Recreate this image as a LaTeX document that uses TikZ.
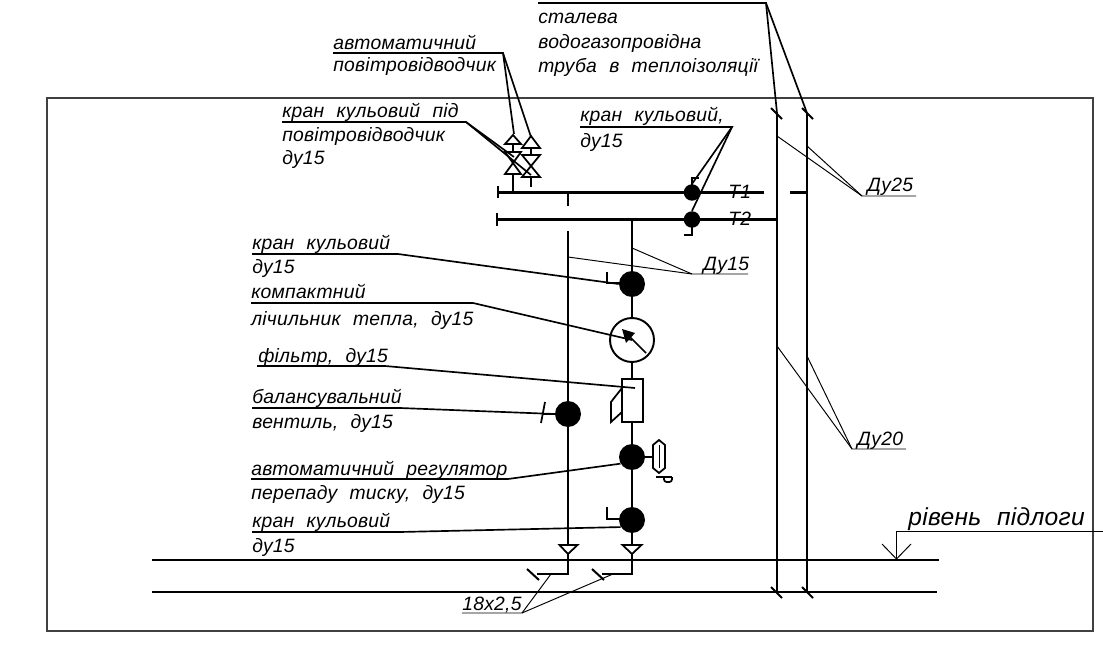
\documentclass[tikz,border=0pt]{standalone}
\usepackage{fontspec}
\setmainfont{Liberation Sans}
\newfontfamily\gostfont[LetterSpace=1.2,WordSpace=2.2]{Liberation Sans}
\usetikzlibrary{calc}
\tikzset{
	pipe/.style={line width=1.15pt},
	leader/.style={line width=0.95pt},
	hairline/.style={line width=0.55pt},
	part/.style={line width=1pt},
	ball/.style={circle,fill=black,inner sep=0pt,minimum size=0.52cm},
	smallball/.style={circle,fill=black,inner sep=0pt,minimum size=0.33cm},
	lbl/.style={anchor=base west,inner sep=0pt,font=\gostfont\itshape\fontsize{11}{13}\selectfont},
}
\begin{document}
\begin{tikzpicture}[x=0.02cm,y=-0.02cm]
			%%%%% FRAME %%%%%
			\useasboundingbox (0,0) rectangle (1103,652);
			\draw[line width=0.8pt,color=black!75] (47,98) rectangle (1093,631);

			%%%%% RISERS AND FLOOR %%%%%
			\draw[pipe] (777,113) -- (777,592);
			\draw[pipe] (807,113) -- (807,592);
			\draw[pipe] (771,108) -- (782,119);
			\draw[pipe] (802,108) -- (813,119);
			\draw[pipe] (771,587) -- (782,598);
			\draw[pipe] (802,587) -- (813,598);
			\draw[line width=1.3pt] (152,560) -- (939,560);
			\draw[line width=1.3pt] (152,592) -- (937,592);

			%%%%% HEADERS %%%%%
			\draw[pipe] (498,192.5) -- (764,192.5);
			\draw[pipe] (790,192.5) -- (807,192.5);
			\draw[pipe] (497,219.5) -- (777,219.5);
			\draw[pipe] (498,186) -- (498,198);
			\draw[pipe] (497,213) -- (497,226);
			\draw[pipe] (568,192.5) -- (568,206);

			%%%%% BRANCHES %%%%%
			\draw[pipe] (568,231) -- (568,574) -- (537,574);
			\draw[pipe] (632,219.5) -- (632,574) -- (602,574);
			\draw[pipe] (527,569) -- (539,580);
			\draw[pipe] (592,569) -- (604,580);
			\draw[part,fill=white] (559.5,545) -- (577.5,545) -- (568,554) -- cycle;
			\draw[part,fill=white] (622.5,545) -- (641.5,545) -- (632,554) -- cycle;

			%%%%% AIR VENTS %%%%%
			\draw[part] (513,192.5) -- (513,174);
			\draw[part] (513,152) -- (513,144);
			\draw[part] (513,135) -- (521,144) -- (505,144) -- cycle;
			\draw[part] (505,152) -- (521,152) -- (505,174) -- (521,174) -- cycle;
			\draw[part] (531,187) -- (531,177);
			\draw[part] (531,155) -- (531,148);
			\draw[part] (531,136) -- (540,148) -- (522,148) -- cycle;
			\draw[part] (522,155) -- (540,155) -- (522,177) -- (540,177) -- cycle;

			%%%%% VALVES ON HEADERS %%%%%
			\node[smallball] (valveT1) at (692,192.5) {};
			\node[smallball] (valveT2) at (692,219.5) {};
			\draw[part] (692,186) -- (692,178) -- (699,178);
			\draw[part] (692,227) -- (692,235) -- (684,235);

			%%%%% DEVICES ON RISER %%%%%
			\node[ball] (valveTop) at (632,284) {};
			\draw[part] (620,283) -- (607,283) -- (607,272);
			\node[circle,draw,fill=white,line width=1.1pt,inner sep=0pt,minimum size=0.88cm] (meter) at (632,340) {};
			\draw[part] (646,353) -- (628,335);
			\fill (622,329) -- (635,333) -- (626,343) -- cycle;
			\node[draw,fill=white,line width=1.1pt,inner sep=0pt,minimum width=0.42cm,minimum height=0.86cm] (filter) at (632.5,400.5) {};
			\draw[part] (622,388) -- (611,402) -- (611,422) -- (622,412);
			\node[ball] (valveBal) at (568,414) {};
			\draw[part] (555,414) -- (543,414);
			\draw[part] (545,402) -- (541,423);
			\node[ball] (regulator) at (632,457) {};
			\draw[part] (645,457) -- (653,457);
			\draw[part] (659,440) -- (665,445) -- (665,468) -- (659,473) -- (653,468) -- (653,445) -- cycle;
			\draw[hairline] (659,445) -- (659,468);
			\draw[part] (656,477) -- (672,477);
			\draw[part,rounded corners=1.5pt] (664,477) -- (664,482) -- (672,482) -- (672,477);
			\node[ball] (valveBot) at (632,520) {};
			\draw[part] (620,519) -- (607,519) -- (607,507);

			%%%%% TEXTS %%%%%
			\node[lbl] (txtVentA) at (333,50) {автоматичний};
			\node[lbl] (txtVentB) at (333,72) {повітровідводчик};
			\node[lbl] (txtSteelA) at (538,24) {сталева};
			\node[lbl] (txtSteelB) at (538,49) {водогазопровідна};
			\node[lbl] (txtSteelC) at (538,73) {труба в теплоізоляції};
			\node[lbl] (txtCockA) at (282,118) {кран кульовий під};
			\node[lbl] (txtCockB) at (282,142) {повітровідводчик};
			\node[lbl] (txtCockC) at (282,165) {ду15};
			\node[lbl] (txtHeadA) at (580,122) {кран кульовий,};
			\node[lbl] (txtHeadB) at (580,148) {ду15};
			\node[lbl] (txtT1) at (728,198) {Т1};
			\node[lbl] (txtT2) at (728,225) {Т2};
			\node[lbl] (txtD25) at (867,192) {Ду25};
			\node[lbl] (txtD20) at (857,445) {Ду20};
			\node[lbl] (txtD15) at (703,271) {Ду15};
			\node[lbl] (txtTopA) at (252,250) {кран кульовий};
			\node[lbl] (txtTopB) at (252,274) {ду15};
			\node[lbl] (txtMeterA) at (251,298) {компактний};
			\node[lbl] (txtMeterB) at (251,325) {лічильник тепла, ду15};
			\node[lbl] (txtFilter) at (258,362) {фільтр, ду15};
			\node[lbl] (txtBalA) at (252,403) {балансувальний};
			\node[lbl] (txtBalB) at (252,428) {вентиль, ду15};
			\node[lbl] (txtRegA) at (251,475) {автоматичний регулятор};
			\node[lbl] (txtRegB) at (251,499) {перепаду тиску, ду15};
			\node[lbl] (txtBotA) at (252,527) {кран кульовий};
			\node[lbl] (txtBotB) at (252,552) {ду15};
			\node[lbl] (txtSize) at (462,610) {18х2,5};
			\node[lbl,font=\gostfont\itshape\fontsize{14}{16}\selectfont] (txtFloor) at (908,525) {рівень підлоги};

			%%%%% LEADERS %%%%%
			\draw[leader] (333,53) coordinate (ulVent) -- (503,53) coordinate (kneeVent) -- (514,134);
			\draw[leader] (kneeVent) -- (531,137);
			\draw[leader] (538,3) coordinate (ulSteel) -- (766,3) coordinate (kneeSteel) -- (777,113);
			\draw[leader] (kneeSteel) -- (807,113);
			\draw[leader] (282,122) coordinate (ulCock) -- (466,122) coordinate (kneeCock) -- (514,157);
			\draw[leader] (kneeCock) -- (531,175);
			\draw[leader] (580,127) coordinate (ulHead) -- (732,127) coordinate (kneeHead) -- (valveT1.north);
			\draw[leader] (kneeHead) -- (valveT2.north);
			\draw[leader] (252,254) coordinate (ulTop) -- (398,254) coordinate (kneeTop) -- (valveTop.west);
			\draw[leader] (251,303) coordinate (ulMeter) -- (473,303) coordinate (kneeMeter) -- (meter.center);
			\draw[leader] (257,366) coordinate (ulFilter) -- (385,366) coordinate (kneeFilter) -- (635,388);
			\draw[leader] (252,408) coordinate (ulBal) -- (400,408) coordinate (kneeBal) -- (valveBal.west);
			\draw[leader] (251,479) coordinate (ulReg) -- (508,479) coordinate (kneeReg) -- (regulator.210);
			\draw[leader] (252,532) coordinate (ulBot) -- (400,532) coordinate (kneeBot) -- (valveBot.212);

			%%%%% THIN LEADERS %%%%%
			\draw[hairline] (916,196) -- (862,196) coordinate (kneeD25) -- (777,136);
			\draw[hairline] (kneeD25) -- (807,146);
			\draw[hairline] (906,449) -- (852,449) coordinate (kneeD20) -- (777,346);
			\draw[hairline] (kneeD20) -- (807,356);
			\draw[hairline] (748,274) -- (692,274) coordinate (kneeD15) -- (568,257);
			\draw[hairline] (kneeD15) -- (632,248);
			\draw[hairline] (462,613) -- (522,613) coordinate (kneeSize) -- (551,574);
			\draw[hairline] (kneeSize) -- (613,574);
			\draw[hairline] (1103,531) -- (896.5,531) coordinate (floorMark) -- (896.5,559);
			\draw[hairline] (882,544) -- (896.5,559) -- (911,544);
\end{tikzpicture}
\end{document}
